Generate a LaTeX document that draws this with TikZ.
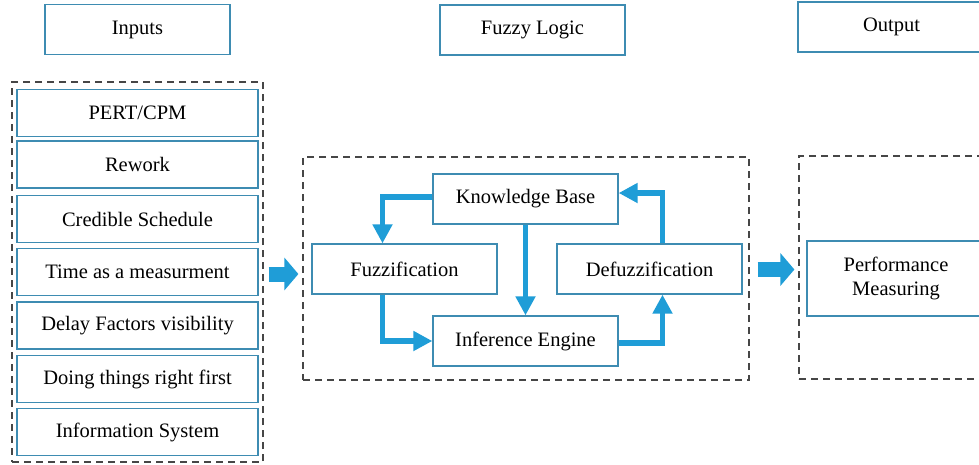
\documentclass[tikz,border=0pt]{standalone}
\usepackage{fontspec}
\setmainfont{Liberation Serif}
\usetikzlibrary{arrows.meta}
\definecolor{boxline}{RGB}{62,140,178}
\definecolor{flowblue}{RGB}{31,157,215}
\definecolor{dashgrey}{RGB}{70,70,70}
\tikzset{
  titlebox/.style={draw=boxline, line width=1.3pt, fill=white, inner sep=0pt,
    minimum width=185pt, minimum height=50pt, font=\fontsize{20.5}{24}\selectfont},
  itembox/.style={titlebox, minimum width=241pt, minimum height=47pt},
  group/.style={draw=dashgrey, line width=1.2pt, dash pattern=on 7pt off 5pt, inner sep=0pt},
  flow/.style={draw=flowblue, line width=5.5pt, -{Triangle[length=19pt,width=19pt]}},
  bigarrow/.style={draw=flowblue, line width=15pt, -{Triangle[length=14pt,width=32pt]}}
}
\begin{document}
\begin{tikzpicture}[x=1pt,y=-1pt]
    \useasboundingbox (0,0) rectangle (979,464);
    \clip (0,0) rectangle (979,464);

    % headings
    \node [titlebox] (inputs) at (137.5,29.5) {Inputs};
    \node [titlebox] (fuzzy) at (532.5,30) {Fuzzy Logic};
    \node [titlebox, minimum width=187pt] (output) at (891.5,27) {Output};

    % dashed groups
    \node [group, minimum width=251pt, minimum height=380pt] (ingroup) at (137.5,272) {};
    \node [group, minimum width=446pt, minimum height=223pt] (midgroup) at (526,268.5) {};
    \node [group, minimum width=191pt, minimum height=223pt] (outgroup) at (894.5,267.5) {};

    % inputs
    \foreach \i/\y/\txt in {1/113/PERT\slash CPM, 2/164.5/Rework, 3/219/Credible Schedule,
        4/272/Time as a measurment, 5/325.5/Delay Factors visibility,
        6/379/Doing things right first, 7/432/Information System}
        \node [itembox] (item\i) at (137.5,\y) {\txt};

    % fuzzy logic
    \node [titlebox] (kb) at (525.5,199) {Knowledge Base};
    \node [titlebox] (fuz) at (404.5,269) {Fuzzification};
    \node [titlebox] (def) at (649.5,269) {Defuzzification};
    \node [titlebox] (inf) at (525.5,341) {Inference Engine};

    % output
    \node [titlebox, minimum width=178pt, minimum height=75pt, align=center] (perf) at (896,278.5) {Performance\\Measuring};

    % cycle
    \draw [flow] ([yshift=2pt]kb.west) -| ([xshift=-22pt]fuz.north);
    \draw [flow] (kb.south) -- (inf.north);
    \draw [flow] ([xshift=-22pt]fuz.south) |- (inf.west);
    \draw [flow] ([yshift=-2pt]inf.east) -| ([xshift=13pt]def.south);
    \draw [flow] ([xshift=13pt]def.north) |- ([yshift=6pt]kb.east);

    % between groups
    \draw [bigarrow] ([xshift=5pt,yshift=-2pt]ingroup.east) -- ([xshift=-4pt]midgroup.west |- 0,274);
    \draw [bigarrow] ([xshift=8pt,yshift=-1pt]midgroup.east) -- ([xshift=-4pt]outgroup.west |- 0,269.5);

\end{tikzpicture}
\end{document}
